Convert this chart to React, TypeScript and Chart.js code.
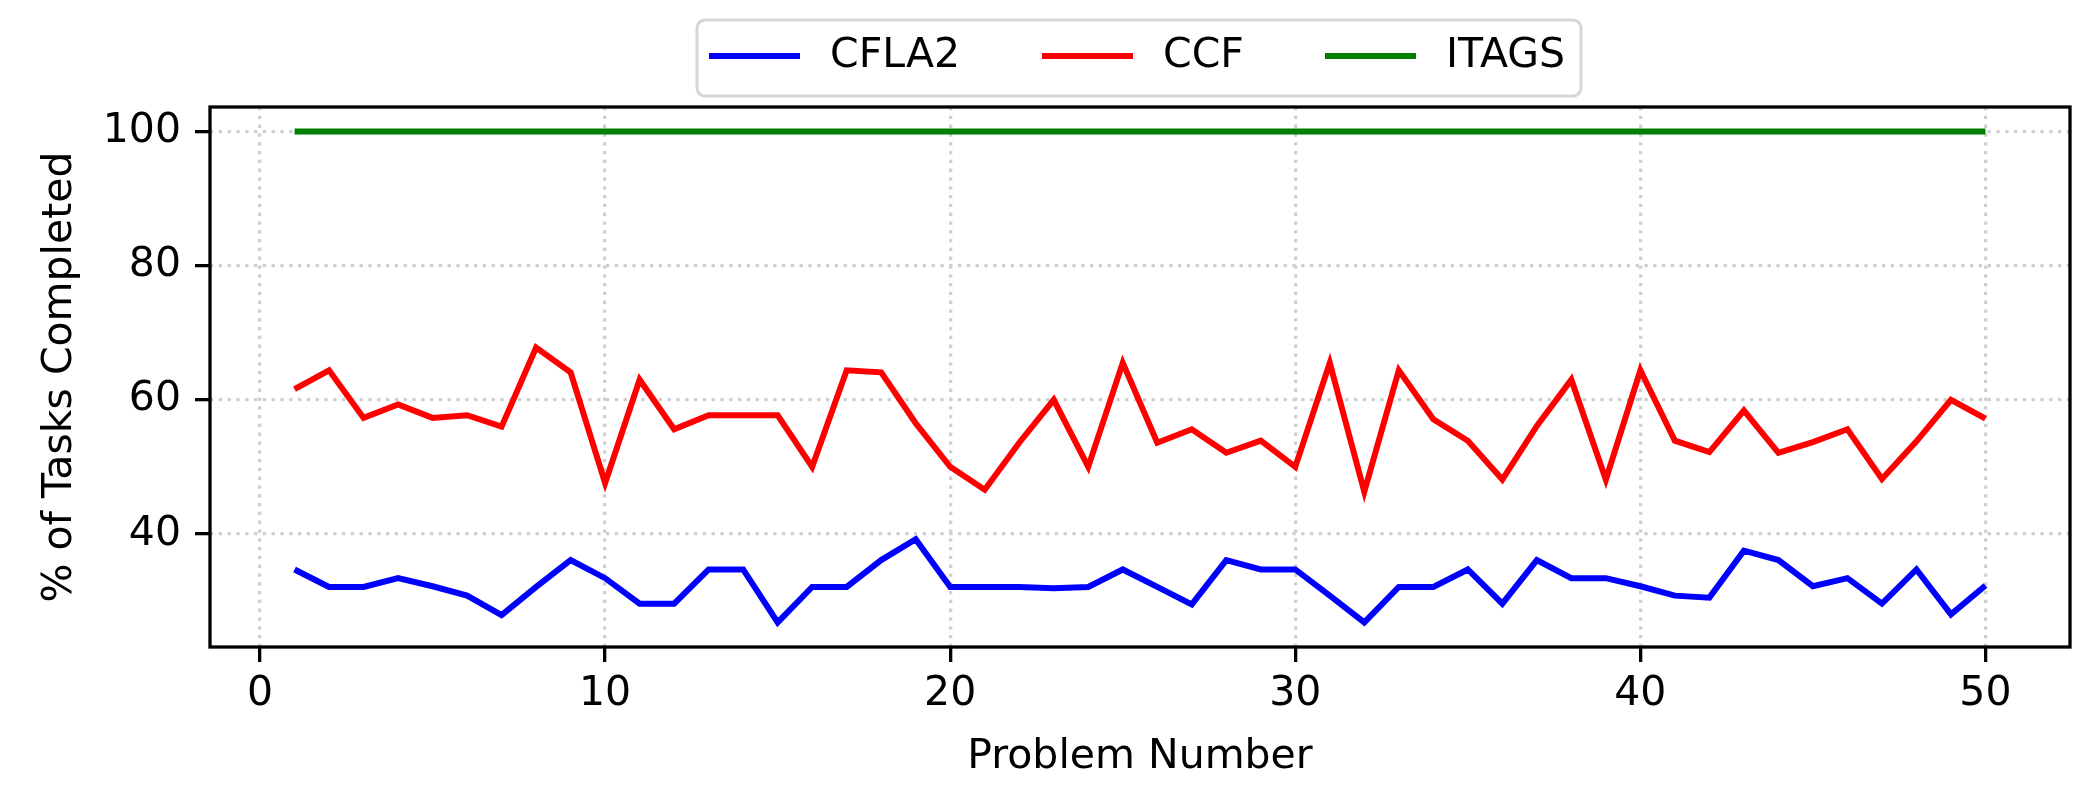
import { Chart, registerables } from "chart.js"
import { useEffect, useRef } from "react"

Chart.register(...registerables)
Chart.defaults.font.family = '"DejaVu Sans", sans-serif'

const PROBLEMS = [
	1, 2, 3, 4, 5, 6, 7, 8, 9, 10, 11, 12, 13, 14, 15, 16, 17, 18, 19, 20, 21, 22, 23, 24, 25, 26, 27, 28, 29,
	30, 31, 32, 33, 34, 35, 36, 37, 38, 39, 40, 41, 42, 43, 44, 45, 46, 47, 48, 49, 50,
]

const CFLA2 = [
	34.7, 32.1, 32.1, 33.4, 32.2, 30.8, 27.9, 32.1, 36.1, 33.4, 29.6, 29.6, 34.7, 34.7, 26.8, 32.1, 32.1, 36.1,
	39.2, 32.1, 32.1, 32.1, 31.9, 32.1, 34.7, 32.1, 29.5, 36.1, 34.7, 34.7, 30.8, 26.8, 32.1, 32.1, 34.7, 29.6,
	36.1, 33.4, 33.4, 32.2, 30.8, 30.5, 37.5, 36.1, 32.2, 33.4, 29.6, 34.7, 28.0, 32.3,
]

const CCF = [
	61.6, 64.4, 57.3, 59.3, 57.3, 57.7, 56.0, 67.8, 64.1, 47.6, 63.0, 55.6, 57.7, 57.7, 57.7, 50.0, 64.4, 64.1,
	56.5, 50.0, 46.6, 53.6, 60.0, 50.0, 65.5, 53.6, 55.6, 52.1, 53.9, 50.0, 65.5, 46.3, 64.4, 57.1, 53.9, 48.1,
	56.1, 63.0, 48.1, 64.4, 53.9, 52.2, 58.4, 52.1, 53.7, 55.6, 48.2, 53.8, 60.0, 57.2,
]

const ITAGS = [
	100, 100, 100, 100, 100, 100, 100, 100, 100, 100, 100, 100, 100, 100, 100, 100, 100, 100, 100, 100, 100, 100,
	100, 100, 100, 100, 100, 100, 100, 100, 100, 100, 100, 100, 100, 100, 100, 100, 100, 100, 100, 100, 100, 100,
	100, 100, 100, 100, 100, 100,
]

const X_TICKS = [0, 10, 20, 30, 40, 50]
const Y_TICKS = [40, 60, 80, 100]

const SERIES = [
	{ label: "CFLA2", values: CFLA2, color: "#0000ff" },
	{ label: "CCF", values: CCF, color: "#ff0000" },
	{ label: "ITAGS", values: ITAGS, color: "#008000" },
]

const W = 2100
const H = 809
const FONT = 41
const GRID_COLOR = "#cfcfcf"

// matplotlib-like frame around the plot area
const framePlugin = {
	id: "frame",
	afterDraw(chart: Chart) {
		const { ctx, chartArea } = chart
		ctx.save()
		ctx.strokeStyle = "#000"
		ctx.lineWidth = 3.3
		ctx.strokeRect(chartArea.left, chartArea.top, chartArea.right - chartArea.left, chartArea.bottom - chartArea.top)
		ctx.restore()
	},
}

// legend box above the plot, three columns
const legendPlugin = {
	id: "mplLegend",
	afterDraw(chart: Chart) {
		const { ctx } = chart
		const box = { x: 697, y: 20, w: 884, h: 76 }
		const handleStarts = [709, 1042, 1325]
		const midY = 56
		ctx.save()
		ctx.beginPath()
		ctx.roundRect(box.x, box.y, box.w, box.h, 8)
		ctx.fillStyle = "rgba(255,255,255,0.8)"
		ctx.fill()
		ctx.strokeStyle = "#d6d6d6"
		ctx.lineWidth = 3
		ctx.stroke()
		chart.data.datasets.forEach((ds, i) => {
			const x0 = handleStarts[i]
			ctx.beginPath()
			ctx.moveTo(x0, midY)
			ctx.lineTo(x0 + 91, midY)
			ctx.strokeStyle = ds.borderColor as string
			ctx.lineWidth = 6
			ctx.stroke()
			ctx.fillStyle = "#000"
			ctx.font = `${FONT}px "DejaVu Sans", sans-serif`
			ctx.textBaseline = "middle"
			ctx.textAlign = "left"
			ctx.fillText(ds.label ?? "", x0 + 121, midY)
		})
		ctx.restore()
	},
}

export default function App() {
	const canvasRef = useRef<HTMLCanvasElement>(null)

	useEffect(() => {
		if (!canvasRef.current) return
		const chart = new Chart(canvasRef.current, {
			type: "line",
			data: {
				datasets: SERIES.map((s) => ({
					label: s.label,
					data: PROBLEMS.map((p, i) => ({ x: p, y: s.values[i] })),
					borderColor: s.color,
					backgroundColor: s.color,
					borderWidth: 6,
					pointRadius: 0,
					tension: 0,
					fill: false,
				})),
			},
			options: {
				responsive: false,
				animation: false,
				devicePixelRatio: 1,
				layout: { padding: { left: 0, right: 30, top: 107, bottom: 0 } },
				plugins: { legend: { display: false }, tooltip: { enabled: false } },
				scales: {
					x: {
						type: "linear",
						min: -1.45,
						max: 52.45,
						afterBuildTicks: (axis) => {
							axis.ticks = X_TICKS.map((v) => ({ value: v }))
						},
						afterFit: (axis) => {
							axis.height = 162
						},
						ticks: { color: "#000", font: { size: FONT }, padding: 8, maxRotation: 0, autoSkip: false },
						grid: {
							color: GRID_COLOR,
							lineWidth: 3.3,
							tickLength: 15,
							tickColor: "#000",
							tickWidth: 3.3,
							tickBorderDash: [],
						},
						border: { display: false, dash: [3.3, 5.5] },
						title: {
							display: true,
							text: "Problem Number",
							color: "#000",
							font: { size: FONT },
							padding: { top: 0, bottom: 27 },
						},
					},
					y: {
						type: "linear",
						min: 23.14,
						max: 103.66,
						afterBuildTicks: (axis) => {
							axis.ticks = Y_TICKS.map((v) => ({ value: v }))
						},
						afterFit: (axis) => {
							axis.width = 210
						},
						ticks: { color: "#000", font: { size: FONT }, padding: 14, autoSkip: false },
						grid: {
							color: GRID_COLOR,
							lineWidth: 3.3,
							tickLength: 15,
							tickColor: "#000",
							tickWidth: 3.3,
							tickBorderDash: [],
						},
						border: { display: false, dash: [3.3, 5.5] },
						title: {
							display: true,
							text: "% of Tasks Completed",
							color: "#000",
							font: { size: FONT },
							padding: { top: 36, bottom: 0 },
						},
					},
				},
			},
			plugins: [framePlugin, legendPlugin],
		})
		return () => {
			chart.destroy()
		}
	}, [])

	return (
		<div style={{ position: "fixed", left: 0, top: 0, width: W, height: H, background: "#fff" }}>
			<canvas ref={canvasRef} width={W} height={H} style={{ width: W, height: H, display: "block" }} />
		</div>
	)
}
